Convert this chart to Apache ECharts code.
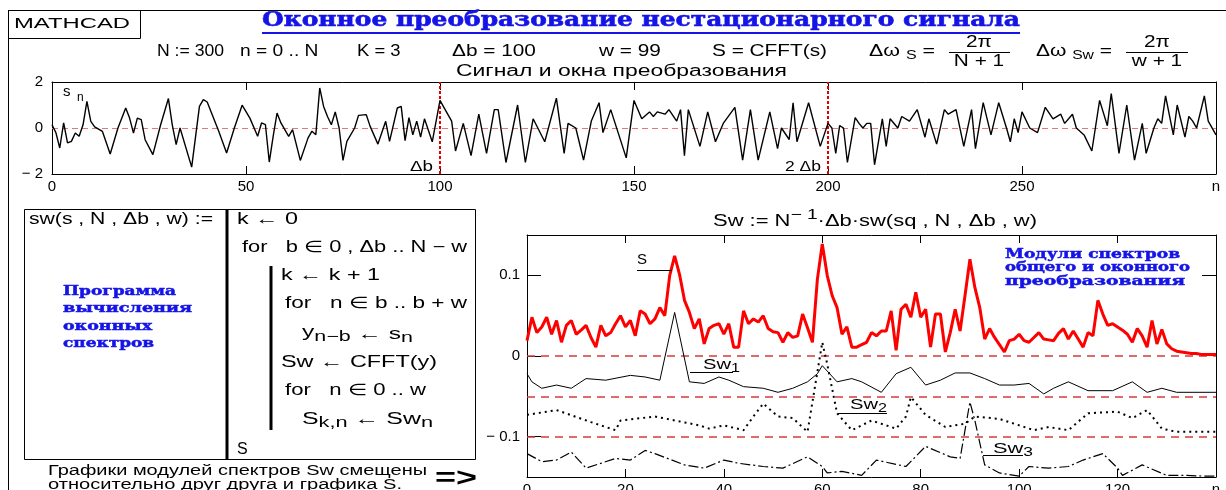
<!DOCTYPE html>
<html><head><meta charset="utf-8">
<script src="https://cdn.jsdelivr.net/npm/echarts@6/dist/echarts.min.js"></script>
<style>html,body{margin:0;padding:0;background:#fff}#c{width:1226px;height:490px}</style>
</head><body><div id="c"></div><script>
// ---------- DATA ----------
// top chart: signal s_n (n, value)
const sigN = [0,1,2,3,4,5,6,7,8,9,10,11,12,13,15,17,19,20,21,22,23,24,26,28,30,31,32,33,36,38,39,40,43,45,47,49,51,53,54,55,56,57,58,59,61,62,64,66,67,68,69,70,71,72,73,74,75,76,78,79,81,82,84,86,87,89,90,91,92,93,94,95,96,97,98,100,101,103,104,106,108,110,112,114,115,117,120,122,124,127,130,132,133,135,137,139,141,142,144,148,150,152,154,155,156,158,159,161,162,163,164,167,169,171,173,176,178,180,182,185,187,188,190,191,192,195,198,200,201,202,203,204,205,207,208,209,210,211,212,214,215,216,218,219,221,223,225,226,228,230,231,233,235,237,238,240,242,244,246,247,248,249,250,252,254,256,258,260,261,263,264,266,268,270,272,273,275,277,279,281,282,284,285,286,287,289,290,292,293,294,295,297,298,300];
const sigV = [0.14,-0.2,-0.87,0.22,-0.65,-0.58,-0.22,-0.36,0.14,1.16,0.29,0.05,-0.05,-0.15,-1.13,0,0.87,0.43,-0.22,0.43,0.36,-0.51,-1.16,0.14,1.28,0.14,-0.72,0,-1.7,0.94,1.23,1.13,-0.15,-1.09,0,0.99,0.43,-0.36,0.22,0.15,-1.48,-0.36,0.65,0.22,-0.36,-0.07,-1.41,-0.43,-0.14,-0.29,1.74,0.94,0.5,0.14,0.7,0,-1.41,-0.58,0,0.55,0.58,0.07,-0.7,0.29,-0.58,0.87,0.94,-0.55,0.45,-0.3,0.3,-0.4,0.4,-0.1,-0.6,1.2,0.9,0.3,-1.0,0.2,-1.2,0.6,-1.1,0.8,0.8,-1.5,1.0,-1.5,0.4,-0.6,1.3,-1.1,0.2,0.0,-1.4,0.3,1.1,-0.2,0.8,-1.3,1.2,0.4,0.7,0.5,0.7,0.6,0.8,0.3,0.8,-1.2,0.8,-0.8,0.7,-0.6,0.2,0.9,-1.4,0.8,-1.4,0.7,-0.9,0.0,-0.5,1.1,-0.6,1.1,-0.8,0.2,0.0,-1.1,0.1,0.0,-1.5,0.45,0.2,0.0,0.2,0.2,-1.6,0.4,-0.8,0.4,0.0,0.5,0.3,0.8,-0.4,0.4,-0.7,0.8,0.6,0.8,-0.8,0.8,-0.9,1.1,-0.3,1.1,0.0,-0.6,0.4,-0.2,0.7,0.0,-0.2,0.9,0.4,0.6,0.2,0.6,0.0,-0.3,-1.0,1.2,0.1,1.5,-1.1,1.0,-1.4,0.2,-1.1,0.0,0.4,0.2,1.4,-0.3,1.0,-0.4,0.5,0.3,0.0,1.4,0.3,-0.3];
const topXTicks = [0,50,100,150,200,250,300];
const topWindowMarks = [100,200];

// bottom chart: spectrum modules
const sX = [0,1,2,3,4,5,6,7,8,9,10,11,12,13,14,15,16,17,18,19,20,21,22,23,24,25,26,27,28,29,30,31,32,33,34,35,36,37,38,39,40,41,42,43,44,45,46,47,48,49,50,51,52,53,54,55,56,57,58,59,60,61,62,63,64,65,66,67,68,69,70,71,72,73,74,75,76,77,78,79,80,81,82,83,84,85,86,87,88,89,90,91,92,93,94,95,96,97,98,99,100,101,102,103,104,105,106,107,108,109,110,111,112,113,114,115,116,117,118,119,120,121,122,123,124,125,126,127,128,129,130,131,132,133,134,135,136,137,138,139,140];
const sY = [0.019,0.048,0.029,0.036,0.048,0.027,0.044,0.017,0.038,0.044,0.027,0.032,0.038,0.023,0.011,0.038,0.025,0.029,0.04,0.05,0.036,0.044,0.025,0.056,0.052,0.04,0.046,0.06,0.05,0.1,0.124,0.101,0.069,0.054,0.034,0.046,0.015,0.034,0.038,0.04,0.027,0.04,0.011,0.011,0.056,0.04,0.046,0.042,0.05,0.034,0.03,0.029,0.017,0.029,0.023,0.025,0.052,0.035,0.017,0.095,0.139,0.1,0.075,0.06,0.027,0.036,0.011,0.011,0.014,0.017,0.029,0.025,0.031,0.031,0.056,0.007,0.058,0.064,0.048,0.079,0.048,0.058,0.011,0.052,0.052,0.005,0.029,0.058,0.031,0.075,0.12,0.085,0.06,0.021,0.034,0.023,0.014,0.005,0.019,0.021,0.027,0.019,0.017,0.023,0.029,0.021,0.02,0.019,0.028,0.034,0.021,0.031,0.021,0.011,0.029,0.025,0.069,0.052,0.038,0.04,0.036,0.032,0.027,0.017,0.034,0.025,0.011,0.044,0.015,0.033,0.015,0.009,0.006,0.005,0.004,0.003,0.003,0.002,0.002,0.002,0.002];
const sw1X = [0,1,3,6,9,12,16,21,24,27,30,33,36,39,41,44,48,51,54,57,59,60,63,66,68,72,75,78,81,84,87,90,93,96,99,102,105,107,110,114,119,123,126,129,132,140];
const sw1Y = [-0.022,-0.032,-0.04,-0.036,-0.04,-0.028,-0.03,-0.024,-0.026,-0.03,0.054,-0.032,-0.034,-0.026,-0.03,-0.038,-0.04,-0.045,-0.04,-0.032,-0.022,-0.012,-0.032,-0.028,-0.032,-0.045,-0.022,-0.014,-0.036,-0.03,-0.021,-0.021,-0.028,-0.036,-0.036,-0.034,-0.047,-0.04,-0.032,-0.043,-0.043,-0.032,-0.045,-0.04,-0.045,-0.045];
const sw2X = [0,6,13,18,19,26,35,37,40,44,46,48,51,54,57,60,61,63,66,70,72,75,77,78,81,85,89,91,96,103,106,110,114,120,123,126,129,132,140];
const sw2Y = [-0.073,-0.067,-0.082,-0.092,-0.08,-0.075,-0.086,-0.09,-0.086,-0.092,-0.075,-0.059,-0.075,-0.077,-0.094,0.017,-0.01,-0.071,-0.092,-0.08,-0.084,-0.09,-0.075,-0.051,-0.073,-0.088,-0.084,-0.075,-0.078,-0.092,-0.088,-0.092,-0.071,-0.069,-0.077,-0.067,-0.09,-0.094,-0.094];
const sw3X = [0,3,6,9,12,18,21,24,26,32,36,40,43,48,52,57,60,61,64,68,71,77,81,86,88,90,91,93,96,100,102,106,110,113,117,120,121,125,130,134,138,140];
const sw3Y = [-0.121,-0.131,-0.129,-0.119,-0.139,-0.127,-0.129,-0.117,-0.121,-0.135,-0.139,-0.129,-0.133,-0.137,-0.139,-0.125,-0.137,-0.145,-0.143,-0.148,-0.129,-0.137,-0.112,-0.125,-0.127,-0.057,-0.08,-0.135,-0.145,-0.149,-0.137,-0.139,-0.137,-0.129,-0.121,-0.139,-0.148,-0.135,-0.148,-0.148,-0.149,-0.149];
const botXTicks = [0,20,40,60,80,100,120,140];
const botYLabels = [-0.1,0,0.1];
const offsetLines = [0,-0.05,-0.1];

// ---------- helpers ----------
const SANS = '"Liberation Sans", Arial, sans-serif';
const SERIF = '"DejaVu Serif", "Liberation Serif", serif';
const BLUE = '#1414e6';
const mctx = document.createElement('canvas').getContext('2d');
function tw(t, f){ mctx.font = f; return mctx.measureText(t).width; }
const G = [];
function T(x, y, text, font, o){
  o = o || {};
  const sx = o.w ? o.w / tw(text, font) : (o.s || 1);
  const st = {text:text, font:font, fill:o.fill||'#000', textAlign:'left', textVerticalAlign:'middle', align:'left', verticalAlign:'middle'};
  if (o.bold) { st.stroke = o.fill || '#000'; st.lineWidth = o.bold; }
  G.push({type:'text', x:x, y:y, scaleX:sx, silent:true, z:100, style:st});
}
function SEQ(x, y, segs, w){
  let tot = 0; segs.forEach(s => tot += tw(s[0], s[1]));
  const sc = w ? w / tot : 1;
  let cx = x;
  segs.forEach(s => {
    G.push({type:'text', x:cx, y:y + (s[2]||0), scaleX:sc, silent:true, z:100,
      style:{text:s[0], font:s[1], fill:s[3]||'#000', textAlign:'left', textVerticalAlign:'middle', align:'left', verticalAlign:'middle'}});
    cx += tw(s[0], s[1]) * sc;
  });
}
function TC(cx, y, text, font, s){
  s = s || 1;
  const w = tw(text, font) * s;
  G.push({type:'text', x:cx - w/2, y:y, scaleX:s, silent:true, z:100,
    style:{text:text, font:font, fill:'#000', textAlign:'left', textVerticalAlign:'middle', align:'left', verticalAlign:'middle'}});
}
function L(x1,y1,x2,y2,c,w){ G.push({type:'line', silent:true, z:90, shape:{x1,y1,x2,y2}, style:{stroke:c||'#000', lineWidth:w||1}}); }
function R(x,y,w,h,lw){ G.push({type:'rect', silent:true, z:90, shape:{x,y,width:w,height:h}, style:{fill:'none', stroke:'#000', lineWidth:lw||1}}); }

const F16 = '16px ' + SANS, F15 = '15px ' + SANS, F12 = '12px ' + SANS, F14 = '14px ' + SANS;
const HS = 1.3; // MathCAD font is wider than Arial

// frame + header
L(8,10.5,1226,10.5); L(8.5,10,8.5,490);
R(8.5,10.5,132,28);
T(14,24,'MATHCAD',F15,{w:116});
T(262,21,'Оконное преобразование нестационарного сигнала','bold 20px '+SERIF,{w:758, fill:BLUE, bold:0.6});
L(262,33,1020,33,BLUE,2);
T(157,52,'N := 300',F16,{s:1.1});
T(240,52,'n = 0 .. N',F16,{s:1.2});
T(357,52,'K = 3',F16,{s:1.15});
T(452,52,'Δb = 100',F16,{s:HS});
T(599,52,'w = 99',F16,{s:HS});
T(712,52,'S = CFFT(s)',F16,{s:HS});
SEQ(869,52,[['Δω ',F16],['S',F12,4],[' =',F16]],66);
TC(979,43,'2π',F16,HS); L(949,52.5,1010,52.5); TC(979,62,'N + 1',F16,HS);
SEQ(1036,52,[['Δω ',F16],['Sw',F12,4],[' =',F16]],76);
TC(1157,43,'2π',F16,HS); L(1126,52.5,1188,52.5); TC(1157,62,'w + 1',F16,HS);
T(456,72,'Сигнал и окна преобразования',F16,{w:331});

// top chart annotations
T(63,92,'s',F15); T(77,98,'n',F12);
T(410,167,'Δb',F15,{w:23});
T(785,167,'2 Δb',F15,{w:36});

// program box
R(24.5,209.5,451,250);
L(227,209,227,460,'#000',3);
L(271,266,271,430,'#000',3);
T(29,220,'sw(s , N , Δb , w) :=',F16,{w:184});
T(237,220,'k ← 0',F16,{w:61});
T(242,248,'for   b ∈ 0 , Δb .. N − w',F16,{w:225});
T(281,276,'k ← k + 1',F16,{w:99});
T(285,304,'for   n ∈ b .. b + w',F16,{w:182});
SEQ(302,335,[['y',F16,-2],['n−b',F14,2],[' ← ',F16],['s',F16],['n',F14,3]],111);
T(281,363,'Sw ← CFFT(y)',F16,{w:156});
T(285,391,'for   n ∈ 0 .. w',F16,{w:141});
SEQ(302,420,[['S',F16],['k,n',F14,3],[' ← ',F16],['Sw',F16],['n',F14,3]],131);
T(237,450,'S',F16);
const FB = 'bold 13px ' + SERIF;
T(63,292,'Программа',FB,{w:113,fill:BLUE,bold:0.5});
T(63,309,'вычисления',FB,{w:129,fill:BLUE,bold:0.5});
T(63,327,'оконных',FB,{w:89,fill:BLUE,bold:0.5});
T(63,344,'спектров',FB,{w:91,fill:BLUE,bold:0.5});
T(48,471,'Графики модулей спектров Sw смещены',F14,{w:379});
T(48,485,'относительно друг друга и графика S.',F14,{w:354});
T(435,479,'=>','bold 26px '+SANS,{w:42});

// bottom chart annotations
SEQ(713,222,[['Sw := N',F16],['− 1',F14,-7],['·Δb·sw(sq , N , Δb , w)',F16]],324);
T(637,260,'S',F15); L(637,270.5,672,270.5);
SEQ(703,365,[['Sw',F15],['1',F12,4]],37); L(690,372.5,733,372.5);
SEQ(850,405,[['Sw',F15],['2',F12,4]],37); L(838,413.5,887,413.5);
SEQ(993,449,[['Sw',F15],['3',F12,4]],40); L(983,455.5,1023,455.5);
T(1005,255,'Модули спектров',FB,{w:175,fill:BLUE,bold:0.5});
T(1005,268,'общего и оконного',FB,{w:185,fill:BLUE,bold:0.5});
T(1005,282,'преобразования',FB,{w:180,fill:BLUE,bold:0.5});

// ---------- chart ----------
const pairs = (xs, ys) => xs.map((x,i) => [x, ys[i]]);
const labelStyle = {color:'#000', fontFamily:'Liberation Sans', fontSize:15};
const minus = v => (v < 0 ? '− ' + String(Math.abs(v)) : String(v));
const boxLine = {show:true, onZero:false, lineStyle:{color:'#000', width:1}};

const chart = echarts.init(document.getElementById('c'), null, {renderer:'canvas'});
chart.setOption({
  animation:false,
  backgroundColor:'#fff',
  grid:[
    {left:52, top:82, width:1164, height:92, show:false, containLabel:false, outerBoundsMode:'none'},
    {left:527, top:235, width:689, height:242, show:false, containLabel:false, outerBoundsMode:'none'}
  ],
  xAxis:[
    {gridIndex:0, type:'value', min:0, max:300, interval:50, position:'bottom', axisLine:boxLine,
     axisTick:{show:true, inside:true, length:8, lineStyle:{color:'#000'}},
     axisLabel:{...labelStyle, margin:5, customValues:topXTicks, formatter:v => v===300 ? 'n' : String(v)},
     splitLine:{show:false}},
    {gridIndex:0, type:'value', min:0, max:300, interval:50, position:'top', axisLine:boxLine,
     axisTick:{show:true, inside:true, length:8, lineStyle:{color:'#000'}},
     axisLabel:{show:false}, splitLine:{show:false}},
    {gridIndex:1, type:'value', min:0, max:140, interval:20, position:'bottom', axisLine:boxLine,
     axisTick:{show:true, inside:true, length:8, lineStyle:{color:'#000'}},
     axisLabel:{...labelStyle, margin:5, customValues:botXTicks, formatter:v => v===140 ? 'n' : String(v)},
     splitLine:{show:false}},
    {gridIndex:1, type:'value', min:0, max:140, interval:20, position:'top', axisLine:boxLine,
     axisTick:{show:true, inside:true, length:8, lineStyle:{color:'#000'}},
     axisLabel:{show:false}, splitLine:{show:false}}
  ],
  yAxis:[
    {gridIndex:0, type:'value', min:-2, max:2, interval:2, position:'left', axisLine:boxLine,
     axisTick:{show:false},
     axisLabel:{...labelStyle, margin:9, formatter:minus},
     splitLine:{show:false}},
    {gridIndex:0, type:'value', min:-2, max:2, interval:2, position:'right', axisLine:boxLine,
     axisTick:{show:false}, axisLabel:{show:false}, splitLine:{show:false}},
    {gridIndex:1, type:'value', min:-0.15, max:0.15, position:'left', axisLine:boxLine,
     axisTick:{show:true, inside:true, length:14, customValues:botYLabels, lineStyle:{color:'#000'}},
     axisLabel:{...labelStyle, margin:7, customValues:botYLabels, formatter:minus},
     splitLine:{show:false}},
    {gridIndex:1, type:'value', min:-0.15, max:0.15, position:'right', axisLine:boxLine,
     axisTick:{show:true, inside:true, length:14, customValues:[0.1], lineStyle:{color:'#000'}},
     axisLabel:{show:false}, splitLine:{show:false}}
  ],
  series:[
    {type:'line', xAxisIndex:0, yAxisIndex:0, data:pairs(sigN, sigV), showSymbol:false, symbol:'none',
     lineStyle:{color:'#000', width:1.4}, z:5,
     markLine:{silent:true, symbol:'none', label:{show:false}, animation:false,
       data:[
         {yAxis:0, lineStyle:{color:'#e07a7a', type:[6,4], width:1}},
         ...topWindowMarks.map(v => ({xAxis:v, lineStyle:{color:'#e00000', type:[3,2], width:2}}))
       ]}},
    {type:'line', xAxisIndex:2, yAxisIndex:2, data:pairs(sX, sY), showSymbol:false, symbol:'none',
     lineStyle:{color:'#ff0000', width:3}, z:6,
     markLine:{silent:true, symbol:'none', label:{show:false}, animation:false,
       data: offsetLines.map(v => ({yAxis:v, lineStyle:{color:'#d43c3c', type:[8,6], width:1.5}}))}},
    {type:'line', xAxisIndex:2, yAxisIndex:2, data:pairs(sw1X, sw1Y), showSymbol:false, symbol:'none',
     lineStyle:{color:'#000', width:1}, z:5},
    {type:'line', xAxisIndex:2, yAxisIndex:2, data:pairs(sw2X, sw2Y), showSymbol:false, symbol:'none',
     lineStyle:{color:'#000', width:2, type:[2,4]}, z:5},
    {type:'line', xAxisIndex:2, yAxisIndex:2, data:pairs(sw3X, sw3Y), showSymbol:false, symbol:'none',
     lineStyle:{color:'#000', width:1.2, type:[10,3,2,3]}, z:5}
  ],
  graphic:{elements:G}
});
</script></body></html>
